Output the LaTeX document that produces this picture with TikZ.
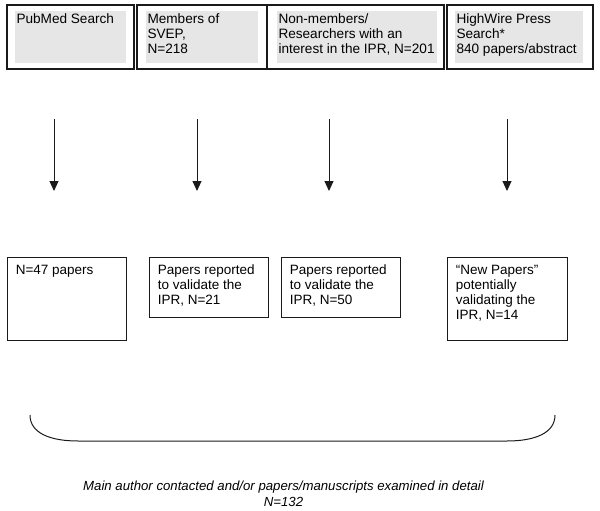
\documentclass[tikz,border=0pt]{standalone}
\usepackage{fontspec}
\setmainfont{Liberation Sans}
\usepackage{tikz}
\usetikzlibrary{arrows.meta}
\definecolor{boxgrey}{HTML}{E6E6E6}
\definecolor{edge}{HTML}{1A1A1A}
\tikzset{
  srcframe/.style={draw=edge, line width=1.3pt, minimum height=64pt, inner sep=0pt},
  srcfill/.style={fill=boxgrey, minimum height=52pt, inner sep=0pt},
  srctext/.style={anchor=north west, align=left, inner xsep=1.5pt, inner ysep=3pt,
    font=\fontsize{13.6}{15}\selectfont},
  resbox/.style={draw=edge, line width=0.8pt, minimum width=119pt, inner sep=0pt},
  restext/.style={anchor=north west, align=left, inner xsep=9pt, inner ysep=8pt,
    font=\fontsize{13.5}{15}\selectfont},
  flow/.style={edge, line width=1pt, -{Triangle[length=10pt,width=9pt]}}
}
\begin{document}
\begin{tikzpicture}[x=1pt,y=-1pt]
    \useasboundingbox (0,0) rectangle (600,511);

    % sources (top row)
    \node[srcframe, minimum width=127pt] (pubmed) at (70.5,37) {};
    \node[srcfill, minimum width=111pt] (pubmedin) at (70.5,37) {};
    \node[srctext] at (pubmedin.north west) {PubMed Search};

    \node[srcframe, minimum width=130pt] (svep) at (202,37) {};
    \node[srcfill, minimum width=112pt] (svepin) at (202,37) {};
    \node[srctext] at (svepin.north west) {Members of\\SVEP,\\N=218};

    \node[srcframe, minimum width=177pt] (nonmem) at (355.5,37) {};
    \node[srcfill, minimum width=160pt] (nonmemin) at (357,37) {};
    \node[srctext] at (nonmemin.north west) {Non-members/\\Researchers with an\\interest in the IPR, N=201};

    \node[srcframe, minimum width=146pt] (highwire) at (520,37) {};
    \node[srcfill, minimum width=128pt] (highwirein) at (519,37) {};
    \node[srctext] at (highwirein.north west) {HighWire Press\\Search*\\840 papers/abstract};

    % arrows
    \foreach \i/\x in {1/54,2/197,3/329,4/507} {
        \coordinate (from\i) at (\x,119);
        \coordinate (to\i) at (\x,191);
        \draw[flow] (from\i) -- (to\i);
    }

    % results (bottom row)
    \node[resbox, minimum height=83pt] (res1) at (66.5,298.5) {};
    \node[restext] at (res1.north west) {N=47 papers};

    \node[resbox, minimum height=60pt] (res2) at (208.5,287) {};
    \node[restext] at (res2.north west) {Papers reported\\to validate the\\IPR, N=21};

    \node[resbox, minimum height=60pt] (res3) at (340.5,287) {};
    \node[restext] at (res3.north west) {Papers reported\\to validate the\\IPR, N=50};

    \node[resbox, minimum width=120pt, minimum height=83pt] (res4) at (507,298.5) {};
    \node[restext] at (res4.north west) {“New Papers”\\potentially\\validating the\\IPR, N=14};

    % brace
    \draw[edge, line width=1pt] (30,415) .. controls (30,433) and (50,441) .. (78,441)
        -- (507,441) .. controls (535,441) and (555,433) .. (555,415);

    % total
    \node[align=center, font=\fontsize{13.2}{16}\selectfont\itshape] (total) at (283.5,494)
        {Main author contacted and/or papers/manuscripts examined in detail\\N=132};
\end{tikzpicture}
\end{document}
